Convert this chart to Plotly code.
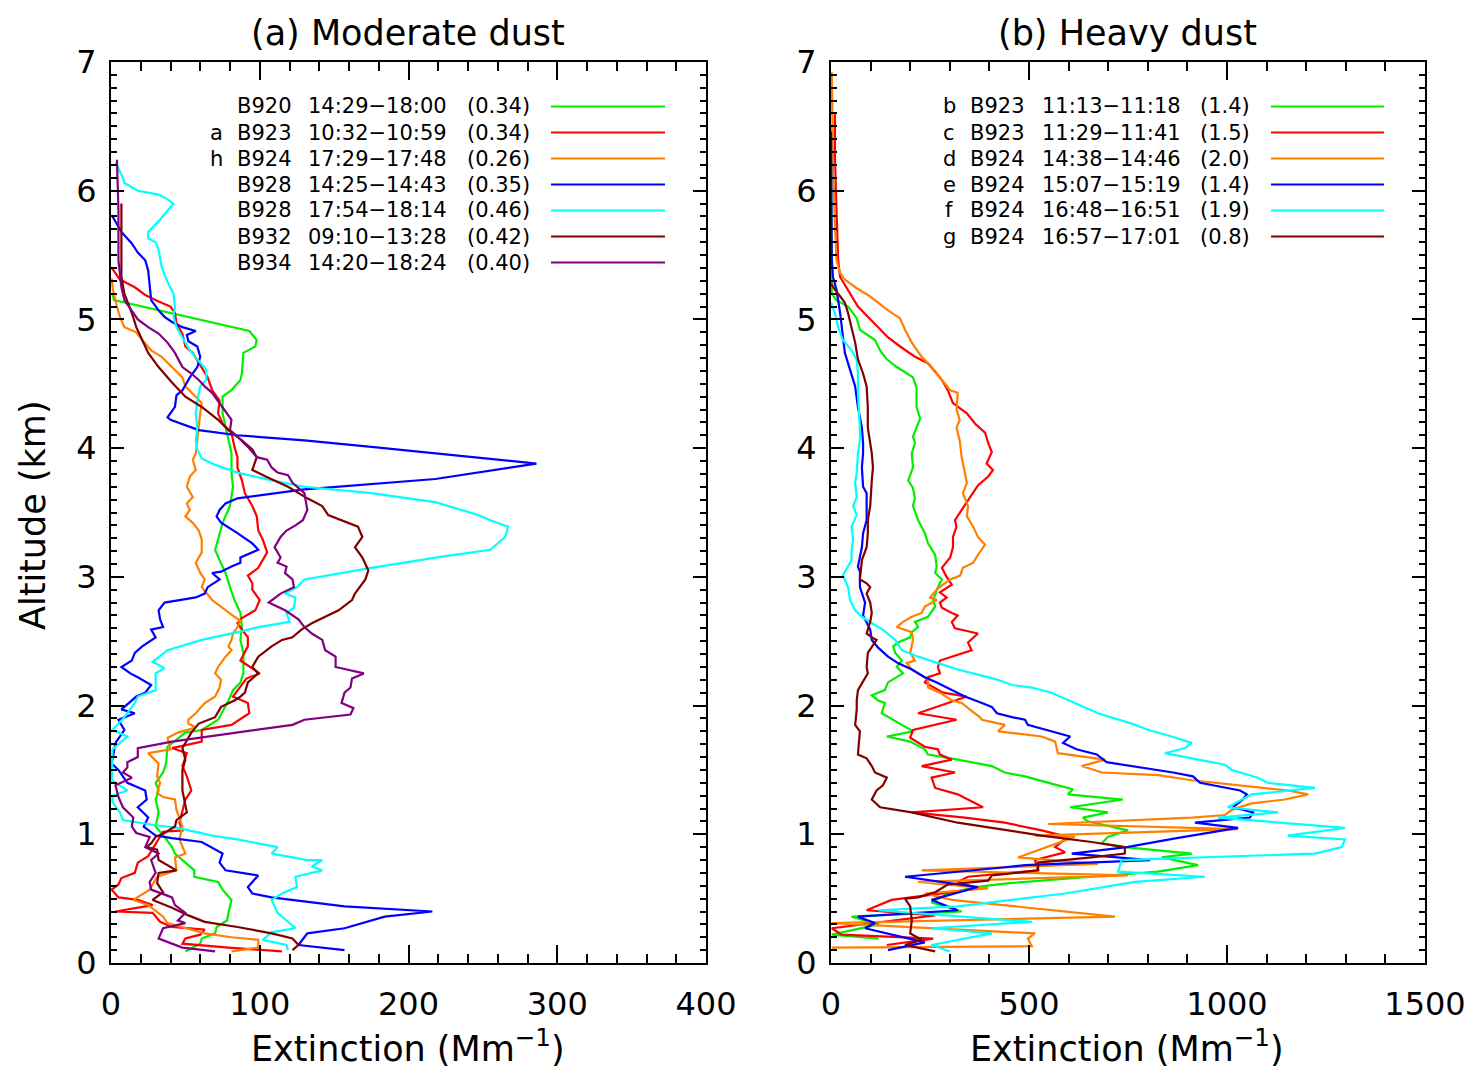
import plotly.graph_objects as go

# ---------------- DATA (altitude km, extinction Mm^-1) ----------------
# Panel (a) Moderate dust
A_B920 = [(5.20,1),(5.15,2),(4.91,93),(4.84,98),(4.79,97),(4.74,89),(4.58,88),(4.53,87),(4.45,81),(4.40,75),
          (4.27,75),(4.16,77),(4.06,79),(3.96,81),(3.81,81),(3.70,82),(3.55,80),(3.42,75),(3.29,72),(3.21,70),
          (3.13,73),(3.03,77),(2.92,80),(2.82,83),(2.72,87),(2.61,88),(2.51,87),(2.41,89),(2.25,89),(2.18,87),
          (2.12,82),(2.04,79),(1.89,72),(1.81,61),(1.79,50),(1.68,38),(1.55,37),(1.48,35),(1.40,30),(1.34,32),
          (1.27,30),(1.17,32),(1.06,30),(0.98,36),(0.90,41),(0.85,43),(0.78,50),(0.72,56),(0.67,56),(0.63,72),
          (0.57,75),(0.49,81),(0.39,79),(0.33,78),(0.28,71),(0.23,70),(0.19,61),(0.15,60),(0.09,50)]
A_B923 = [(5.40,0.5),(5.31,6),(5.25,16),(5.19,23),(5.14,32),(5.10,40),(5.05,43),(4.97,44),(4.89,48),(4.79,50),
          (4.74,55),(4.63,61),(4.55,65),(4.45,68),(4.37,73),(4.27,72),(4.19,75),(4.12,81),(4.01,83),(3.93,85),
          (3.85,85),(3.75,88),(3.65,90),(3.55,95),(3.47,98),(3.36,99),(3.29,102),(3.19,105),(3.11,101),(3.07,99),
          (3.01,92),(2.95,95),(2.90,95),(2.82,100),(2.74,97),(2.68,88),(2.64,85),(2.53,92),(2.46,92),(2.35,87),
          (2.25,100),(2.21,91),(2.07,82),(2.02,92),(1.94,93),(1.85,81),(1.81,61),(1.72,61),(1.67,41),(1.63,51),
          (1.53,48),(1.45,51),(1.34,54),(1.27,50),(1.09,46),(1.03,48),(1.02,35),(0.83,25),(0.78,18),(0.70,16),
          (0.66,7),(0.61,5),(0.57,0.5),(0.51,5),(0.49,18),(0.45,28),(0.40,3),(0.39,28),(0.32,33),(0.28,41),
          (0.26,63),(0.22,60),(0.19,50),(0.15,48),(0.12,79),(0.09,115)]
A_B924 = [(5.32,0.5),(5.23,1.3),(5.10,4),(5.02,6),(4.94,9),(4.90,17),(4.84,21),(4.76,27),(4.71,34),(4.63,41),
          (4.55,48),(4.48,50),(4.40,57),(4.35,61),(4.27,60),(4.16,59),(4.06,58),(3.96,57),(3.91,55),(3.83,57),
          (3.78,53),(3.70,51),(3.62,55),(3.57,51),(3.52,53),(3.47,50),(3.42,55),(3.36,59),(3.29,61),(3.19,61),
          (3.11,57),(3.03,60),(2.98,63),(2.92,61),(2.82,68),(2.74,77),(2.69,83),(2.66,87),(2.61,85),(2.56,82),
          (2.51,81),(2.46,79),(2.43,81),(2.38,77),(2.30,72),(2.25,70),(2.20,74),(2.14,73),(2.07,70),(2.02,63),
          (1.94,57),(1.89,52),(1.86,52),(1.83,57),(1.79,45),(1.75,38),(1.66,40),(1.63,25),(1.55,32),(1.45,31),
          (1.40,33),(1.32,31),(1.29,35),(1.27,43),(1.19,44),(1.06,48),(0.96,46),(0.85,50),(0.82,43),(0.72,44),
          (0.67,31),(0.57,26),(0.49,15),(0.45,25),(0.36,35),(0.31,38),(0.27,50),(0.23,63),(0.20,81),(0.18,99),
          (0.12,99),(0.09,81)]
A_B928a = [(5.81,0.5),(5.68,7),(5.59,14),(5.52,18),(5.46,23),(5.38,25),(5.15,27),(5.07,32),(5.02,36),(4.98,41),
           (4.94,48),(4.91,57),(4.88,51),(4.83,52),(4.79,58),(4.71,60),(4.63,58),(4.55,53),(4.45,48),(4.41,44),
           (4.32,43),(4.24,38),(4.22,40),(4.14,59),(4.10,85),(4.06,130),(4.01,175),(3.96,218),(3.88,286),(3.76,218),
           (3.68,130),(3.61,85),(3.57,77),(3.52,73),(3.47,71),(3.42,74),(3.34,85),(3.26,95),(3.21,99),(3.15,87),
           (3.11,87),(3.08,81),(3.04,74),(3.03,68),(2.98,73),(2.92,65),(2.87,63),(2.84,57),(2.80,36),(2.74,32),
           (2.67,33),(2.61,35),(2.59,27),(2.53,30),(2.46,21),(2.41,16),(2.35,14),(2.30,7),(2.25,13),(2.22,18),
           (2.16,27),(2.10,23),(2.07,17),(1.99,9),(1.97,7),(1.94,16),(1.89,5),(1.81,9),(1.71,3),(1.55,0.5),
           (1.50,5),(1.40,11),(1.34,23),(1.27,24),(1.21,18),(1.13,25),(1.06,22),(0.99,30),(0.97,41),(0.94,61),
           (0.85,75),(0.78,73),(0.72,77),(0.68,99),(0.59,92),(0.54,95),(0.51,108),(0.44,157),(0.40,216),(0.36,184),
           (0.27,157),(0.23,132),(0.14,126),(0.10,157)]
A_B928b = [(6.22,3),(6.10,8),(6.06,9),(6.00,18),(5.97,32),(5.94,37),(5.90,42),(5.83,37),(5.75,31),(5.68,25),
           (5.63,25),(5.60,30),(5.54,32),(5.41,34),(5.29,38),(5.20,42),(5.10,43),(5.02,42),(4.94,44),(4.86,48),
           (4.76,53),(4.69,58),(4.61,64),(4.53,64),(4.48,60),(4.37,58),(4.27,57),(4.16,58),(4.06,57),(3.99,58),
           (3.92,61),(3.87,70),(3.81,85),(3.75,108),(3.70,130),(3.65,175),(3.58,218),(3.48,247),(3.44,255),(3.39,267),
           (3.31,265),(3.21,255),(3.15,218),(3.07,175),(2.98,130),(2.92,125),(2.87,117),(2.84,124),(2.76,123),(2.72,118),
           (2.65,120),(2.61,99),(2.57,85),(2.51,61),(2.48,52),(2.43,38),(2.34,28),(2.29,36),(2.25,30),(2.12,30),
           (2.07,18),(2.02,16),(1.91,9),(1.81,1),(1.76,11),(1.66,1),(1.42,0.5),(1.34,11),(1.30,1),(1.25,1),
           (1.17,6),(1.11,8),(1.07,30),(1.05,45),(0.99,68),(0.96,85),(0.90,112),(0.85,108),(0.80,132),(0.80,142),
           (0.75,135),(0.72,142),(0.67,124),(0.59,125),(0.54,115),(0.49,108),(0.39,112),(0.27,124),(0.24,108),(0.18,102),
           (0.14,118),(0.10,119)]
A_B932 = [(5.90,7),(5.64,7),(5.33,7),(5.20,9),(5.05,14),(4.94,17),(4.84,21),(4.74,25),(4.63,32),(4.51,41),
          (4.40,50),(4.32,61),(4.22,72),(4.14,79),(4.06,88),(3.99,95),(3.93,98),(3.83,95),(3.78,104),(3.70,119),
          (3.61,132),(3.55,142),(3.48,146),(3.43,157),(3.39,166),(3.31,169),(3.23,164),(3.15,169),(3.05,173),(2.98,171),
          (2.87,164),(2.82,162),(2.74,153),(2.64,135),(2.59,128),(2.53,122),(2.51,115),(2.46,108),(2.38,99),(2.30,95),
          (2.25,99),(2.18,92),(2.10,90),(2.07,87),(2.04,83),(1.99,74),(1.91,70),(1.86,59),(1.79,54),(1.67,48),
          (1.58,50),(1.50,48),(1.34,48),(1.17,51),(1.11,44),(1.06,43),(1.01,36),(0.98,30),(0.93,27),(0.90,24),
          (0.88,31),(0.80,32),(0.72,44),(0.70,32),(0.62,31),(0.55,35),(0.49,28),(0.43,41),(0.37,52),(0.32,63),
          (0.28,85),(0.23,108),(0.19,122),(0.14,126),(0.10,122)]
A_B934 = [(6.24,4),(5.85,5),(5.46,5),(5.25,7),(5.15,9),(5.07,14),(5.00,18),(4.94,25),(4.89,32),(4.82,38),
          (4.74,43),(4.63,48),(4.58,54),(4.53,59),(4.48,63),(4.43,68),(4.35,73),(4.27,78),(4.22,81),(4.14,80),
          (4.09,85),(4.01,92),(3.93,98),(3.91,105),(3.85,108),(3.81,112),(3.79,119),(3.73,122),(3.65,130),(3.52,132),
          (3.44,129),(3.40,124),(3.36,118),(3.31,114),(3.23,110),(3.15,114),(3.11,112),(3.08,118),(3.03,117),(2.98,122),
          (2.92,123),(2.87,114),(2.80,106),(2.74,117),(2.67,126),(2.61,130),(2.56,135),(2.51,142),(2.43,144),(2.38,151),
          (2.30,151),(2.25,170),(2.21,162),(2.14,161),(2.10,157),(2.02,155),(1.98,163),(1.93,161),(1.89,130),(1.85,122),
          (1.79,85),(1.72,41),(1.67,18),(1.60,18),(1.56,11),(1.52,11),(1.48,8),(1.44,14),(1.38,3),(1.29,5),
          (1.21,8),(1.13,15),(1.06,14),(1.01,17),(0.98,26),(0.90,23),(0.85,32),(0.80,27),(0.70,30),(0.63,26),
          (0.57,27),(0.51,41),(0.45,43),(0.39,50),(0.33,45),(0.31,50),(0.27,35),(0.19,32),(0.12,48),(0.09,70)]

# Panel (b) Heavy dust
B_b = [(6.50,0),(5.20,2),(5.15,14),(5.10,43),(5.01,65),(4.92,73),(4.84,111),(4.76,124),(4.69,141),(4.63,166),
       (4.59,187),(4.55,207),(4.47,216),(4.32,216),(4.23,225),(4.16,216),(4.09,207),(4.04,212),(3.96,204),(3.85,207),
       (3.75,195),(3.69,207),(3.61,212),(3.55,207),(3.44,220),(3.34,237),(3.26,245),(3.17,263),(3.08,267),(3.03,263),
       (2.98,280),(2.92,270),(2.82,258),(2.77,263),(2.69,245),(2.65,212),(2.61,220),(2.57,204),(2.53,200),(2.49,169),
       (2.46,157),(2.41,162),(2.35,179),(2.30,166),(2.25,182),(2.18,144),(2.12,136),(2.08,103),(2.04,119),(2.02,136),
       (1.97,131),(1.94,128),(1.85,179),(1.80,207),(1.76,141),(1.72,200),(1.66,237),(1.62,245),(1.58,320),(1.53,406),
       (1.48,439),(1.45,490),(1.38,573),(1.35,611),(1.31,598),(1.27,737),(1.21,604),(1.17,699),(1.13,636),(1.10,649),
       (1.03,750),(0.98,699),(0.93,684),(0.90,742),(0.85,911),(0.82,835),(0.76,927),(0.71,826),(0.67,658),(0.62,450),
       (0.59,364),(0.54,295),(0.47,254),(0.40,330),(0.36,52),(0.30,120),(0.22,2),(0.19,120)]
B_c = [(6.61,10),(6.24,10),(5.85,14),(5.46,18),(5.33,23),(5.23,43),(5.17,56),(5.10,68),(5.02,93),(4.94,119),
       (4.86,144),(4.78,179),(4.71,212),(4.66,245),(4.53,280),(4.45,295),(4.35,308),(4.27,343),(4.19,364),(4.12,389),
       (4.04,397),(3.97,406),(3.88,393),(3.83,409),(3.78,397),(3.71,371),(3.60,346),(3.52,330),(3.44,313),(3.39,317),
       (3.31,308),(3.23,308),(3.15,301),(3.07,280),(3.00,292),(2.94,305),(2.88,275),(2.84,292),(2.80,275),(2.76,280),
       (2.72,305),(2.70,320),(2.65,305),(2.60,313),(2.56,371),(2.49,346),(2.43,355),(2.35,275),(2.30,270),(2.25,275),
       (2.22,245),(2.18,237),(2.10,283),(2.07,343),(1.94,220),(1.89,317),(1.81,207),(1.75,200),(1.68,237),(1.66,270),
       (1.62,275),(1.58,305),(1.53,229),(1.48,313),(1.44,254),(1.36,263),(1.31,320),(1.27,346),(1.21,384),(1.17,204),
       (1.13,338),(1.09,439),(1.03,532),(0.98,598),(0.90,566),(0.86,591),(0.80,515),(0.72,523),(0.67,346),(0.63,320),
       (0.58,371),(0.55,305),(0.49,153),(0.41,90),(0.37,263),(0.27,2),(0.22,27),(0.19,258),(0.14,141)]
B_d = [(6.92,2),(6.24,5),(5.72,10),(5.46,14),(5.36,23),(5.31,35),(5.25,61),(5.19,93),(5.13,119),(5.07,144),
       (5.01,174),(4.92,187),(4.82,204),(4.71,229),(4.63,254),(4.53,280),(4.45,301),(4.43,320),(4.30,317),(4.22,325),
       (4.16,317),(4.06,325),(3.93,330),(3.81,338),(3.73,343),(3.65,333),(3.55,346),(3.47,343),(3.39,359),(3.31,371),
       (3.25,389),(3.17,371),(3.11,359),(3.07,333),(3.01,326),(2.98,301),(2.95,288),(2.91,270),(2.84,250),(2.82,267),
       (2.77,237),(2.72,229),(2.69,204),(2.65,182),(2.61,166),(2.59,187),(2.57,204),(2.51,207),(2.41,200),(2.35,212),
       (2.33,191),(2.28,204),(2.25,220),(2.20,245),(2.14,245),(2.10,275),(2.04,305),(2.02,330),(1.95,359),(1.91,376),
       (1.89,381),(1.85,439),(1.80,422),(1.76,532),(1.72,566),(1.63,573),(1.58,692),(1.53,633),(1.48,684),(1.46,826),
       (1.42,911),(1.38,1037),(1.34,1154),(1.31,1205),(1.27,1146),(1.24,1062),(1.19,1012),(1.15,995),(1.13,911),(1.08,548),
       (1.04,1028),(0.99,515),(0.98,616),(0.82,472),(0.77,674),(0.72,229),(0.68,750),(0.63,220),(0.58,397),(0.54,237),
       (0.49,305),(0.36,717),(0.31,2),(0.23,515),(0.19,497),(0.13,507),(0.12,2)]
B_e = [(6.46,0),(5.46,2),(5.33,5),(5.23,14),(5.05,23),(4.86,30),(4.74,35),(4.61,48),(4.48,61),(4.32,68),
       (4.16,78),(4.04,81),(3.96,81),(3.85,78),(3.70,81),(3.65,90),(3.55,90),(3.44,90),(3.34,81),(3.23,78),
       (3.08,68),(3.04,73),(2.92,73),(2.84,81),(2.80,86),(2.70,81),(2.59,99),(2.51,103),(2.45,119),(2.38,144),
       (2.33,169),(2.28,204),(2.22,237),(2.18,267),(2.12,305),(2.07,338),(2.02,381),(1.99,406),(1.94,419),(1.91,457),
       (1.89,490),(1.85,497),(1.76,604),(1.71,586),(1.66,620),(1.62,671),(1.56,696),(1.52,780),(1.48,864),(1.45,914),
       (1.40,932),(1.34,1033),(1.31,1050),(1.27,1040),(1.21,1015),(1.17,1066),(1.13,1058),(1.09,919),(1.05,1028),(0.97,873),
       (0.90,747),(0.85,608),(0.80,806),(0.76,490),(0.74,427),(0.67,187),(0.59,371),(0.49,254),(0.41,320),(0.36,68),
       (0.31,111),(0.27,86),(0.16,237),(0.10,144)]
B_f = [(5.13,0),(5.05,10),(4.94,18),(4.84,30),(4.76,52),(4.69,65),(4.58,68),(4.43,68),(4.16,73),(4.06,73),
       (3.96,68),(3.81,65),(3.73,61),(3.62,65),(3.55,56),(3.48,65),(3.39,52),(3.29,56),(3.21,52),(3.13,52),
       (3.04,35),(3.01,30),(2.92,43),(2.82,48),(2.74,61),(2.69,78),(2.64,103),(2.59,131),(2.51,162),(2.43,179),
       (2.38,220),(2.33,270),(2.28,320),(2.24,371),(2.20,422),(2.16,457),(2.14,507),(2.10,557),(2.02,616),(1.94,674),
       (1.86,759),(1.81,802),(1.76,860),(1.71,911),(1.67,894),(1.63,843),(1.54,995),(1.50,1012),(1.44,1078),(1.40,1103),
       (1.36,1222),(1.31,1062),(1.21,1002),(1.17,1129),(1.13,977),(1.05,1298),(0.99,1154),(0.96,1298),(0.90,1290),(0.85,1222),
       (0.80,734),(0.71,725),(0.67,944),(0.63,768),(0.54,591),(0.44,320),(0.41,119),(0.32,507),(0.27,254),(0.23,406),
       (0.14,254),(0.09,300)]
B_g = [(5.28,0),(5.23,10),(5.18,23),(5.13,35),(5.05,43),(4.94,52),(4.82,61),(4.69,68),(4.58,81),(4.48,90),
       (4.32,93),(4.16,93),(4.04,99),(3.96,103),(3.85,106),(3.75,103),(3.55,99),(3.44,93),(3.34,93),(3.23,90),
       (3.13,78),(2.98,73),(2.95,90),(2.92,99),(2.87,90),(2.80,99),(2.72,103),(2.65,99),(2.56,90),(2.53,103),
       (2.51,115),(2.41,93),(2.30,90),(2.25,93),(2.12,68),(2.04,65),(1.97,65),(1.85,61),(1.80,73),(1.62,68),
       (1.59,90),(1.53,103),(1.48,111),(1.44,141),(1.38,131),(1.34,115),(1.27,103),(1.21,124),(1.17,204),(1.09,320),
       (1.05,406),(0.99,532),(0.94,658),(0.90,742),(0.85,742),(0.82,658),(0.78,523),(0.72,523),(0.68,406),(0.64,397),
       (0.61,295),(0.55,263),(0.51,220),(0.50,187),(0.44,200),(0.33,204),(0.23,200),(0.18,229),(0.14,187),(0.09,263)]

# Legend / labels
A_PREFIX = ["", "a", "h", "", "", "", ""]
A_FLIGHT = ["B920", "B923", "B924", "B928", "B928", "B932", "B934"]
A_TIME = ["14:29\u221218:00", "10:32\u221210:59", "17:29\u221217:48", "14:25\u221214:43",
          "17:54\u221218:14", "09:10\u221213:28", "14:20\u221218:24"]
A_AOD = ["(0.34)", "(0.34)", "(0.26)", "(0.35)", "(0.46)", "(0.42)", "(0.40)"]
B_PREFIX = ["b", "c", "d", "e", "f", "g"]
B_FLIGHT = ["B923", "B923", "B924", "B924", "B924", "B924"]
B_TIME = ["11:13\u221211:18", "11:29\u221211:41", "14:38\u221214:46", "15:07\u221215:19",
          "16:48\u221216:51", "16:57\u221217:01"]
B_AOD = ["(1.4)", "(1.5)", "(2.0)", "(1.4)", "(1.9)", "(0.8)"]

COLORS = ["#00ee00", "#ff0000", "#ff8000", "#0000ff", "#00ffff", "#800000", "#800080"]

A_SERIES = [A_B920, A_B923, A_B924, A_B928a, A_B928b, A_B932, A_B934]
B_SERIES = [B_b, B_c, B_d, B_e, B_f, B_g]

X_TICKS_A = [0, 100, 200, 300, 400]
X_TICKS_B = [0, 500, 1000, 1500]
Y_TICKS = [0, 1, 2, 3, 4, 5, 6, 7]

# ---------------- FIGURE ----------------
W, H = 1470, 1071
FONT = "DejaVu Sans"

def px_x(p):
    return p / W

def px_y(p):
    return 1 - p / H

fig = go.Figure()
for s, c in zip(A_SERIES, COLORS):
    alt, ext = zip(*s)
    fig.add_trace(go.Scatter(x=list(ext), y=list(alt), mode="lines",
                             line=dict(color=c, width=2.2), xaxis="x", yaxis="y",
                             showlegend=False, hoverinfo="skip"))
for s, c in zip(B_SERIES, COLORS):
    alt, ext = zip(*s)
    fig.add_trace(go.Scatter(x=list(ext), y=list(alt), mode="lines",
                             line=dict(color=c, width=2.2), xaxis="x2", yaxis="y2",
                             showlegend=False, hoverinfo="skip"))

tickfont = dict(family=FONT, size=32, color="black")

def xaxis(domain, rng, ticks, minor_dt, anchor):
    return dict(domain=domain, range=rng, tickmode="array", tickvals=ticks,
                ticktext=[str(t) for t in ticks], ticks="inside", ticklen=18, tickwidth=2,
                tickcolor="black", minor=dict(dtick=minor_dt, ticks="inside", ticklen=9,
                                               tickwidth=2, tickcolor="black"),
                showline=True, linewidth=2, linecolor="black", mirror="ticks",
                showgrid=False, zeroline=False, tickfont=tickfont, anchor=anchor,
                ticklabelstandoff=12, ticklabeloverflow="allow")

def yaxis(domain, anchor):
    return dict(domain=domain, range=[0, 7], tickmode="array", tickvals=Y_TICKS,
                ticktext=[str(t) for t in Y_TICKS], ticks="inside", ticklen=13, tickwidth=2,
                tickcolor="black", minor=dict(dtick=0.1, ticks="inside", ticklen=6,
                                               tickwidth=2, tickcolor="black"),
                showline=True, linewidth=2, linecolor="black", mirror="ticks",
                showgrid=False, zeroline=False, tickfont=tickfont, anchor=anchor,
                ticklabelstandoff=6, ticklabeloverflow="allow")

ydom = [px_y(963), px_y(62)]
fig.update_layout(
    width=W, height=H, margin=dict(l=0, r=0, t=0, b=0, pad=0, autoexpand=False),
    paper_bgcolor="white", plot_bgcolor="white",
    xaxis=xaxis([px_x(111), px_x(706)], [0, 400], X_TICKS_A, 20, "y"),
    yaxis=yaxis(ydom, "x"),
    xaxis2=xaxis([px_x(831), px_x(1425)], [0, 1500], X_TICKS_B, 100, "y2"),
    yaxis2=yaxis(ydom, "x2"),
    showlegend=False,
)

ann = []
big = dict(family=FONT, size=35, color="black")
ann.append(dict(text="(a) Moderate dust", x=px_x(408), y=px_y(33), font=big))
ann.append(dict(text="(b) Heavy dust", x=px_x(1127), y=px_y(33), font=big))
ann.append(dict(text="Extinction (Mm<sup>\u22121</sup>)", x=px_x(408), y=px_y(1046), font=big))
ann.append(dict(text="Extinction (Mm<sup>\u22121</sup>)", x=px_x(1127), y=px_y(1046), font=big))
ann.append(dict(text="Altitude (km)", x=px_x(33), y=px_y(515), font=big, textangle=-90))

leg_font = dict(family=FONT, size=21, color="black")
rows = [106.5, 132.5, 158.5, 184.5, 210.5, 236.5, 262.5]
shapes = []

def legend(prefix, flight, tm, aod, cols, line_x, n):
    for i in range(n):
        y = px_y(rows[i])
        if prefix[i]:
            ann.append(dict(text=prefix[i], x=px_x(cols[0]), y=y, xanchor="center", font=leg_font))
        ann.append(dict(text=flight[i], x=px_x(cols[1]), y=y, xanchor="left", font=leg_font))
        ann.append(dict(text=tm[i], x=px_x(cols[2]), y=y, xanchor="left", font=leg_font))
        ann.append(dict(text=aod[i], x=px_x(cols[3]), y=y, xanchor="left", font=leg_font))
        shapes.append(dict(type="line", xref="paper", yref="paper", x0=px_x(line_x[0]), x1=px_x(line_x[1]),
                           y0=y, y1=y, line=dict(color=COLORS[i], width=2.2)))

legend(A_PREFIX, A_FLIGHT, A_TIME, A_AOD, [216, 235, 306, 465], [551, 665], 7)
legend(B_PREFIX, B_FLIGHT, B_TIME, B_AOD, [949, 968, 1040, 1198], [1271, 1384], 6)

for a in ann:
    a.setdefault("xref", "paper")
    a.setdefault("yref", "paper")
    a.setdefault("showarrow", False)
    a.setdefault("xanchor", "center")
    a.setdefault("yanchor", "middle")
fig.update_layout(annotations=ann, shapes=shapes)

# remove the default page margin so the 1470x1071 figure fills the window exactly
fig.write_html("out.html", config={"displayModeBar": False},
               post_script="document.body.style.margin='0';document.body.style.overflow='hidden';")
